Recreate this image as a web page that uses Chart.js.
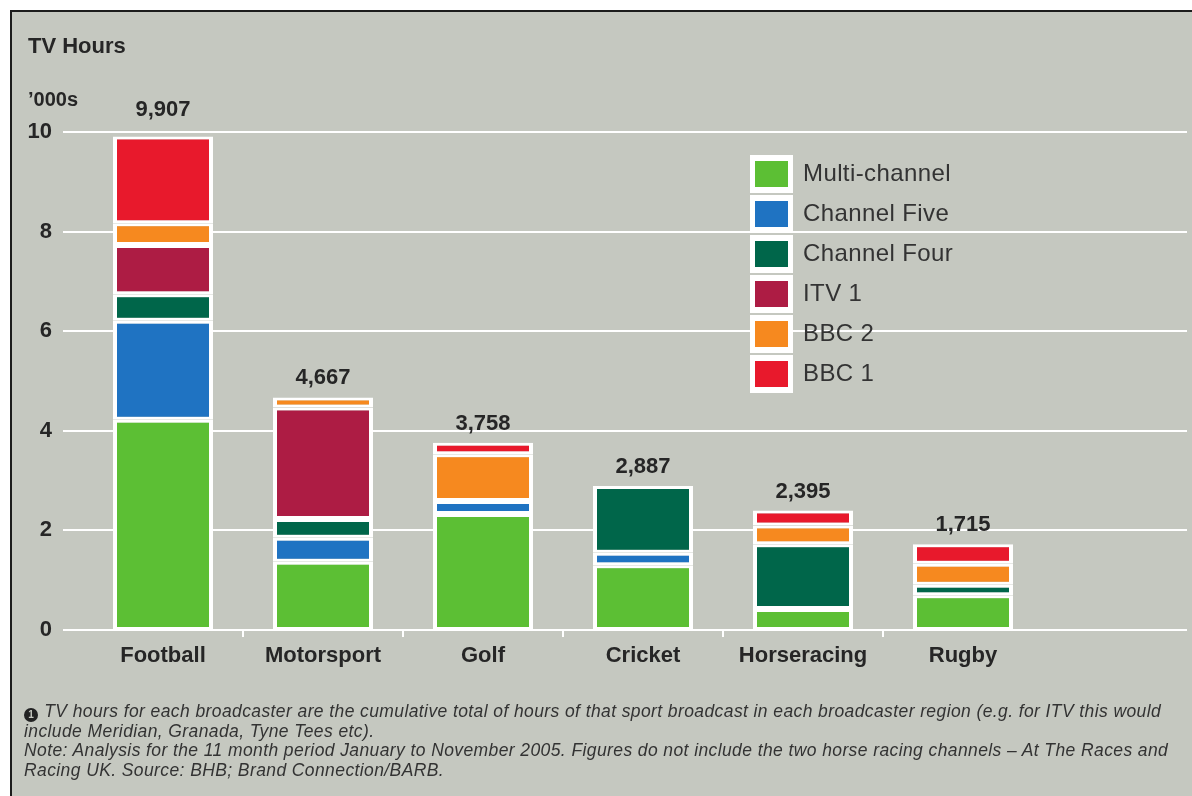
<!DOCTYPE html>
<html>
<head>
<meta charset="utf-8">
<script src="https://cdn.jsdelivr.net/npm/chart.js@4.4.0/dist/chart.umd.min.js"></script>
<style>
  html, body { margin: 0; padding: 0; background: #ffffff; }
  #frame {
    position: absolute; left: 10px; top: 10px; width: 1182px; height: 786px;
    background: #c5c8c0; border-left: 2px solid #1c1c1c; border-top: 2px solid #1c1c1c;
    box-sizing: border-box;
  }
  #wrap { position: absolute; left: 0; top: 0; width: 1192px; height: 796px; }
  .head { position: absolute; left: 28px; color: #262626; font-family: "Liberation Sans", Arial, sans-serif; font-weight: bold; white-space: nowrap; }
  #title { top: 35px; font-size: 22px; line-height: 22px; }
  #unit { top: 89px; font-size: 20px; line-height: 20px; }
  #notes {
    position: absolute; left: 24px; top: 702px; color: #333333;
    font: italic 17.5px/19.3px "Liberation Sans", Arial, sans-serif; letter-spacing: 0.4px; white-space: nowrap;
  }
  #notes .dot {
    display: inline-block; width: 14px; height: 14px; border-radius: 7px; background: #222;
    color: #c5c8c0; font: bold 10px/14px "Liberation Sans", Arial, sans-serif; letter-spacing: 0;
    text-align: center; vertical-align: -1px; margin-right: 1px;
  }
</style>
</head>
<body>
<div id="frame"></div>
<div id="wrap"><canvas id="tvChart"></canvas></div>
<div class="head" id="title">TV Hours</div>
<div class="head" id="unit">’000s</div>
<div id="notes"><span class="dot">1</span> TV hours for each broadcaster are the cumulative total of hours of that sport broadcast in each broadcaster region (e.g. for ITV this would<br>include Meridian, Granada, Tyne Tees etc).<br>Note: Analysis for the 11 month period January to November 2005. Figures do not include the two horse racing channels – At The Races and<br>Racing UK. Source: BHB; Brand Connection/BARB.</div>

<script>
// datos (miles de horas)
var categories = ["Football", "Motorsport", "Golf", "Cricket", "Horseracing", "Rugby"];
var multiChannel = [4.22, 1.37, 2.33, 1.30, 0.42, 0.70];
var channelFive = [1.99, 0.48, 0.26, 0.25, null, null];
var channelFour = [0.53, 0.38, null, 1.34, 1.30, 0.21];
var itv1 = [0.99, 2.24, null, null, null, null];
var bbc2 = [0.44, 0.20, 0.94, null, 0.38, 0.42];
var bbc1 = [1.74, null, 0.23, null, 0.30, 0.39];
var totals = [9907, 4667, 3758, 2887, 2395, 1715];
var yTicks = [0, 2, 4, 6, 8, 10];

var FONT = '"Liberation Sans", Arial, sans-serif';
var TEXT = "#262626";

function serie(label, data, color) {
  return {
    label: label,
    data: data,
    backgroundColor: color,
    borderColor: "#ffffff",
    borderWidth: { top: 3, bottom: 3, left: 4, right: 4 },
    borderSkipped: false,
    inflateAmount: 0,
    barPercentage: 0.625,
    categoryPercentage: 1,
  };
}

// rejilla blanca y marcas entre categorias
var gridPlugin = {
  id: "backGrid",
  beforeDatasetsDraw: function (chart) {
    var ctx = chart.ctx, x = chart.scales.x, y = chart.scales.y;
    ctx.save();
    ctx.strokeStyle = "#ffffff";
    ctx.lineWidth = 2;
    yTicks.forEach(function (v) {
      var py = Math.round(y.getPixelForValue(v));
      ctx.beginPath();
      ctx.moveTo(chart.chartArea.left - 20, py);
      ctx.lineTo(chart.width - 5, py);
      ctx.stroke();
    });
    var base = Math.round(y.getPixelForValue(0));
    for (var i = 0; i < categories.length - 1; i++) {
      var px = Math.round((x.getPixelForValue(i) + x.getPixelForValue(i + 1)) / 2);
      ctx.beginPath();
      ctx.moveTo(px, base);
      ctx.lineTo(px, base + 7);
      ctx.stroke();
    }
    ctx.restore();
  },
};

// totales encima de cada barra
var totalsPlugin = {
  id: "totals",
  afterDatasetsDraw: function (chart) {
    var ctx = chart.ctx;
    ctx.save();
    ctx.fillStyle = TEXT;
    ctx.font = "bold 22px " + FONT;
    ctx.textAlign = "center";
    ctx.textBaseline = "bottom";
    categories.forEach(function (c, i) {
      for (var d = chart.data.datasets.length - 1; d >= 0; d--) {
        if (chart.data.datasets[d].data[i] != null) {
          var bar = chart.getDatasetMeta(d).data[i];
          var gap = i === 0 ? 16 : 8;
          ctx.fillText(totals[i].toLocaleString("en-US"), bar.x, bar.y - gap);
          break;
        }
      }
    });
    ctx.restore();
  },
};

// leyenda dentro del area del grafico
var legendPlugin = {
  id: "boxLegend",
  afterDraw: function (chart) {
    var ctx = chart.ctx;
    var x0 = 750, y0 = 155, step = 40;
    ctx.save();
    ctx.font = "24px " + FONT;
    ctx.letterSpacing = "0.4px";
    ctx.textBaseline = "middle";
    chart.data.datasets.forEach(function (ds, i) {
      var top = y0 + i * step;
      ctx.fillStyle = "#ffffff";
      ctx.fillRect(x0, top, 43, 38);
      ctx.fillStyle = ds.backgroundColor;
      ctx.fillRect(x0 + 5, top + 6, 33, 26);
      ctx.fillStyle = "#333333";
      ctx.fillText(ds.label, x0 + 53, top + 19);
    });
    ctx.restore();
  },
};

var ctx = document.getElementById("tvChart").getContext("2d");
var tvChart = new Chart(ctx, {
  type: "bar",
  data: {
    labels: categories,
    datasets: [
      serie("Multi-channel", multiChannel, "#5cbf34"),
      serie("Channel Five", channelFive, "#1f73c2"),
      serie("Channel Four", channelFour, "#00664a"),
      serie("ITV 1", itv1, "#ad1c44"),
      serie("BBC 2", bbc2, "#f6891f"),
      serie("BBC 1", bbc1, "#e8192c"),
    ],
  },
  options: {
    responsive: true,
    maintainAspectRatio: false,
    animation: false,
    layout: {
      padding: { left: 10, top: 132, right: 149, bottom: 126 },
    },
    scales: {
      x: {
        stacked: true,
        grid: { display: false, drawTicks: false },
        border: { display: false },
        ticks: {
          color: TEXT,
          padding: 13,
          font: { family: FONT, size: 22, weight: "bold" },
        },
        afterFit: function (scale) {
          scale.height = 40;
        },
      },
      y: {
        stacked: true,
        min: 0,
        max: 10,
        grid: { display: false, drawTicks: false },
        border: { display: false },
        ticks: {
          stepSize: 2,
          color: TEXT,
          padding: 31,
          font: { family: FONT, size: 22, weight: "bold" },
        },
        afterFit: function (scale) {
          scale.width = 73;
        },
      },
    },
    plugins: {
      legend: { display: false },
      tooltip: { enabled: false },
    },
  },
  plugins: [gridPlugin, totalsPlugin, legendPlugin],
});
</script>
</body>
</html>
